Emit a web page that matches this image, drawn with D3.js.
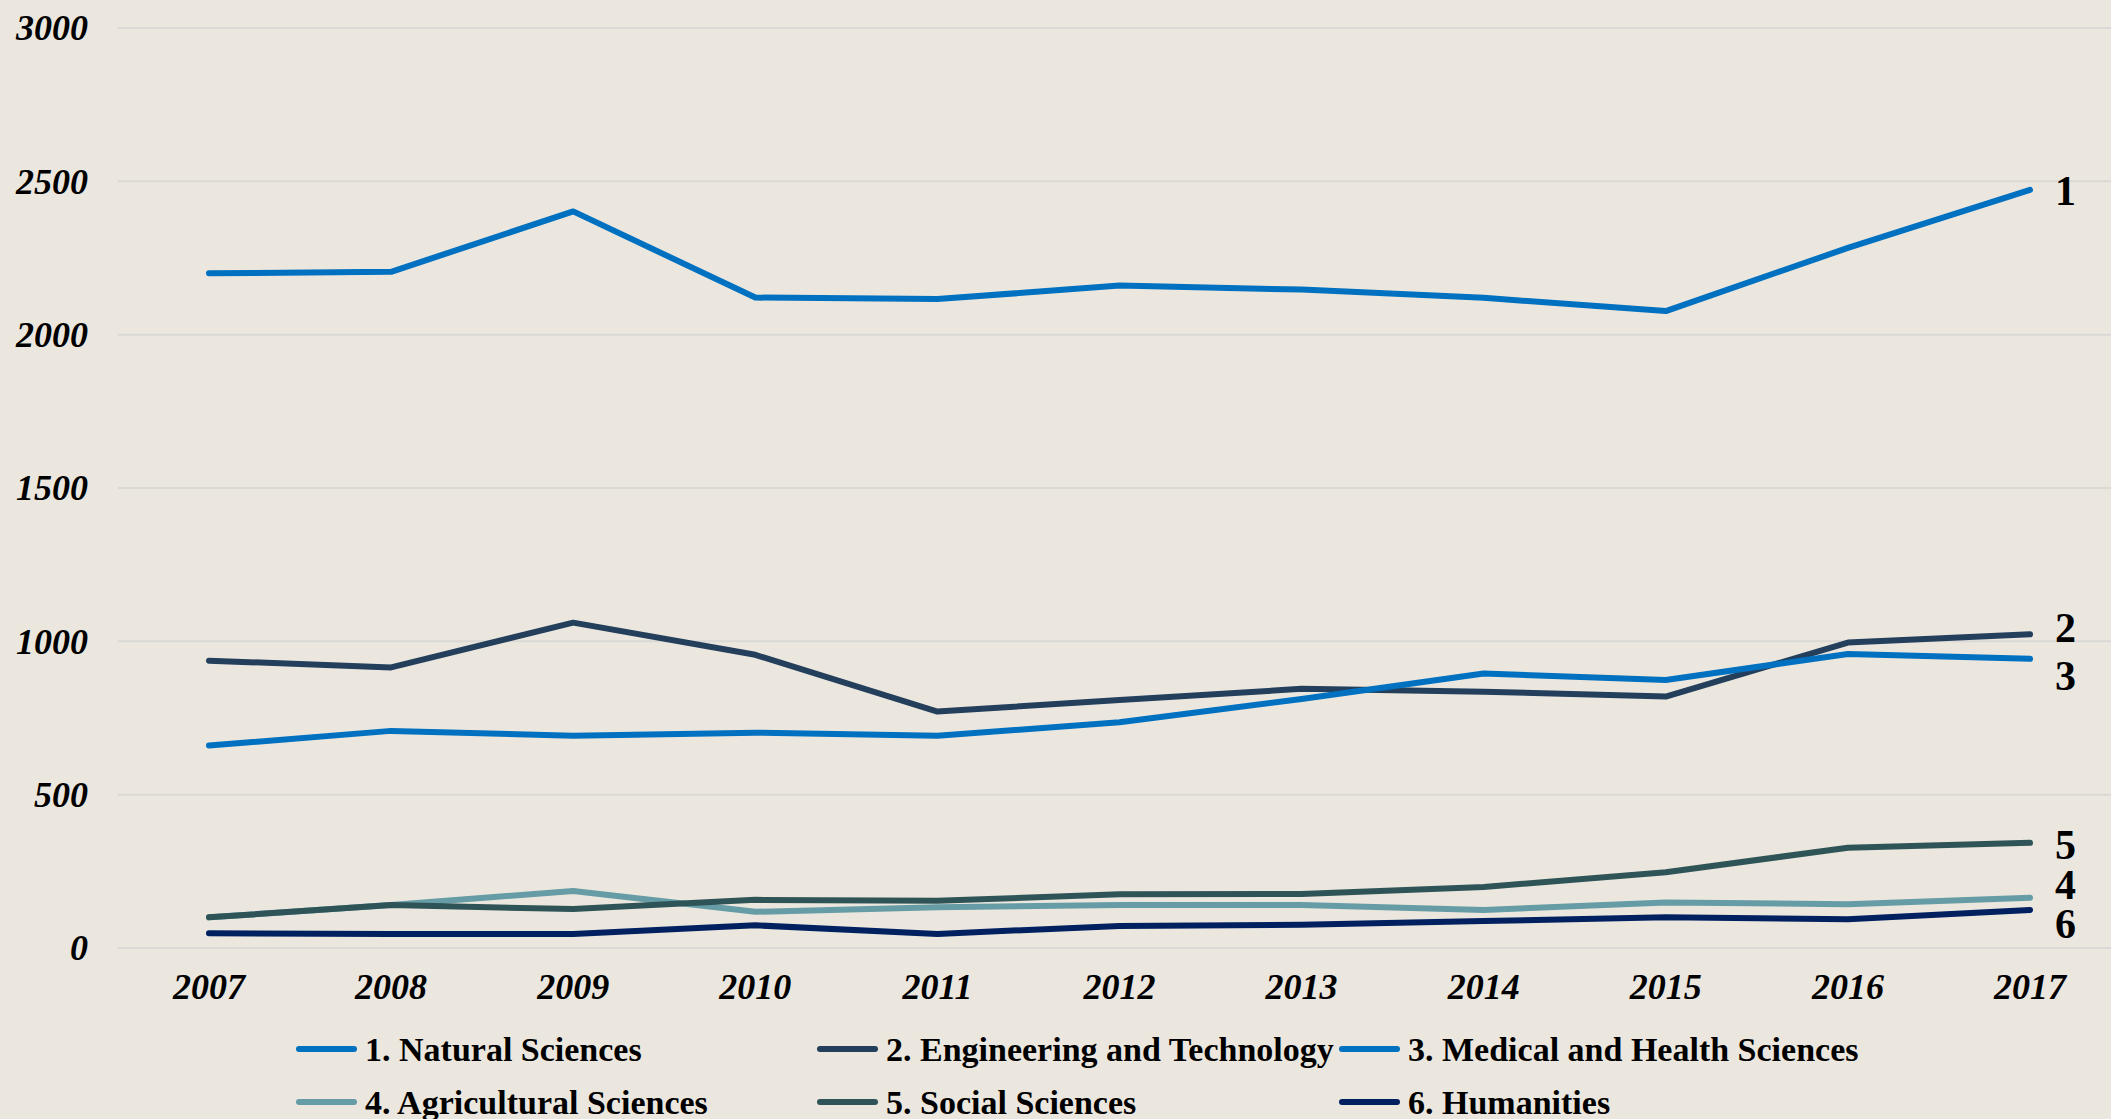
<!DOCTYPE html>
<html>
<head>
<meta charset="utf-8">
<script src="https://cdn.jsdelivr.net/npm/d3@7"></script>
<style>
  html, body { margin: 0; padding: 0; background: #ebe7de; }
  svg { display: block; }
  text { font-family: "Liberation Serif", "Times New Roman", serif; fill: #000; }
</style>
</head>
<body>
<svg id="chart"></svg>
<script>
const years = [2007, 2008, 2009, 2010, 2011, 2012, 2013, 2014, 2015, 2016, 2017];
const yTicks = [0, 500, 1000, 1500, 2000, 2500, 3000];

const naturalSciences = [2200, 2205, 2402, 2121, 2116, 2160, 2147, 2120, 2077, 2283, 2472];
const engineering     = [937, 915, 1061, 956, 771, 809, 845, 836, 820, 996, 1023];
const medical         = [660, 708, 692, 702, 692, 736, 812, 895, 874, 959, 943];
const agricultural    = [100, 140, 186, 118, 133, 140, 140, 124, 148, 143, 164];
const social          = [100, 140, 127, 157, 154, 175, 176, 199, 247, 327, 343];
const humanities      = [48, 46, 46, 74, 46, 72, 76, 88, 100, 94, 124];

const seriesNames = ["1. Natural Sciences", "2. Engineering and Technology", "3. Medical and Health Sciences",
                     "4. Agricultural Sciences", "5. Social Sciences", "6. Humanities"];
const endLabels = ["1", "2", "3", "4", "5", "6"];
const seriesValues = [naturalSciences, engineering, medical, agricultural, social, humanities];
const colors = ["#0070c0", "#233f5c", "#0070c0", "#669ca6", "#2f5458", "#002060"];

// end label nudges (px) so the numbers don't collide
const labelNudge = [0, -7, 16, -13, 1, 13];

const W = 2111, H = 1119;
const svg = d3.select("#chart").attr("width", W).attr("height", H);

const x = d3.scalePoint().domain(years).range([209, 2030]);
const y = d3.scaleLinear().domain([0, 3000]).range([948, 28]);

// gridlines
svg.append("g")
    .selectAll("line")
    .data(yTicks)
    .enter().append("line")
        .attr("x1", 118).attr("x2", W)
        .attr("y1", d => y(d)).attr("y2", d => y(d))
        .attr("stroke", "#dbd9d5")
        .attr("stroke-width", 2);

// y axis labels
svg.append("g")
    .selectAll("text")
    .data(yTicks)
    .enter().append("text")
        .attr("x", 88)
        .attr("y", d => y(d))
        .attr("dy", "0.34em")
        .attr("text-anchor", "end")
        .style("font-size", "36px")
        .style("font-weight", "bold")
        .style("font-style", "italic")
        .text(d => d);

// x axis labels
svg.append("g")
    .selectAll("text")
    .data(years)
    .enter().append("text")
        .attr("x", d => x(d))
        .attr("y", 999)
        .attr("text-anchor", "middle")
        .style("font-size", "36px")
        .style("font-weight", "bold")
        .style("font-style", "italic")
        .text(d => d);

// lines
const line = d3.line()
    .x((d, i) => x(years[i]))
    .y(d => y(d));

svg.append("g")
    .selectAll("path")
    .data(seriesValues)
    .enter().append("path")
        .attr("d", d => line(d))
        .attr("fill", "none")
        .attr("stroke", (d, i) => colors[i])
        .attr("stroke-width", 6)
        .attr("stroke-linecap", "round")
        .attr("stroke-linejoin", "round");

// end labels
svg.append("g")
    .selectAll("text")
    .data(seriesValues)
    .enter().append("text")
        .attr("x", 2055)
        .attr("y", (d, i) => y(d[d.length - 1]) + labelNudge[i])
        .attr("dy", "0.35em")
        .style("font-size", "42px")
        .style("font-weight", "bold")
        .text((d, i) => endLabels[i]);

// legend
const legendCols = [299, 820, 1342];
const legendRows = [1049, 1102];
const legend = svg.append("g")
    .selectAll("g")
    .data(seriesNames)
    .enter().append("g")
        .attr("transform", (d, i) => `translate(${legendCols[i % 3]}, ${legendRows[Math.floor(i / 3)]})`);

legend.append("line")
    .attr("x1", 0).attr("x2", 55)
    .attr("stroke", (d, i) => colors[i])
    .attr("stroke-width", 6)
    .attr("stroke-linecap", "round");

legend.append("text")
    .attr("x", 66)
    .attr("dy", "0.34em")
    .style("font-size", "34px")
    .style("font-weight", "bold")
    .text(d => d);
</script>
</body>
</html>
